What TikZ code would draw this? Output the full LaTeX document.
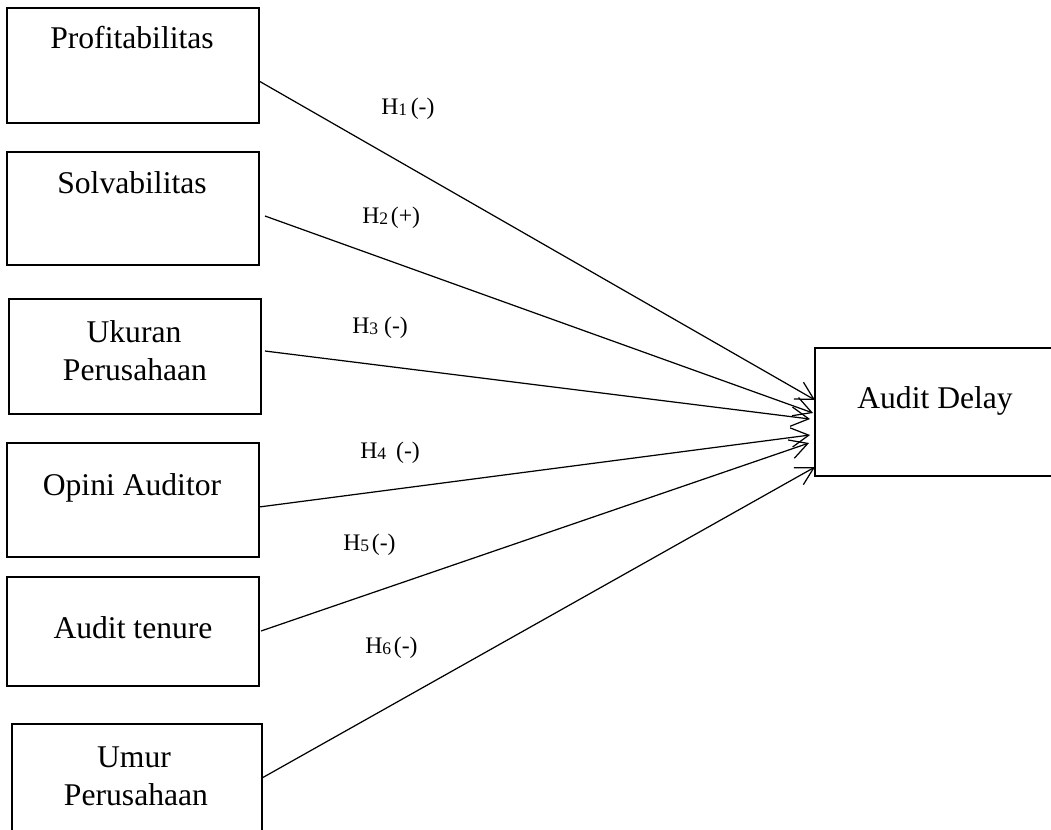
\documentclass[tikz,border=0pt]{standalone}
\usepackage{fontspec}
\setmainfont{Liberation Serif}
\usetikzlibrary{arrows.meta,calc}
% small index digit after H
\newcommand\hsub[1]{\raisebox{-1pt}{\fontsize{10}{12}\selectfont #1}}
\begin{document}
\begin{tikzpicture}[x=0.02cm,y=-0.02cm,
  box/.style={draw,line width=0.75pt,rectangle,inner sep=0pt,outer sep=0pt},
  boxtext/.style={anchor=base,inner sep=0pt,font=\fontsize{18}{21}\selectfont},
  hyp/.style={anchor=base west,inner sep=0pt,font=\fontsize{13.5}{16}\selectfont},
  arr/.style={line width=0.7pt,-{Straight Barb[length=10pt,width=11pt]}}]
\useasboundingbox (0,0) rectangle (1051,829);
\clip (0,0) rectangle (1051,829);

% independent variables
\node[box,minimum width=5.04cm,minimum height=2.30cm] (p1) at (133,65.5) {};
\node[box,minimum width=5.04cm,minimum height=2.26cm] (p2) at (133,208.5) {};
\node[box,minimum width=5.04cm,minimum height=2.30cm] (p3) at (135,356.5) {};
\node[box,minimum width=5.04cm,minimum height=2.28cm] (p4) at (133,500) {};
\node[box,minimum width=5.04cm,minimum height=2.18cm] (p5) at (133,631.5) {};
\node[box,minimum width=5.00cm,minimum height=2.28cm] (p6) at (137,781) {};
% dependent variable
\node[box,minimum width=4.90cm,minimum height=2.56cm] (ad) at (937.5,412) {};

\node[boxtext] (t1) at (132,48) {Profitabilitas};
\node[boxtext] (t2) at (132,193) {Solvabilitas};
\node[boxtext] (t3a) at (134,342) {Ukuran};
\node[boxtext] (t3b) at (135,380) {Perusahaan};
\node[boxtext] (t4) at (132,495) {Opini Auditor};
\node[boxtext] (t5) at (133,638) {Audit tenure};
\node[boxtext] (t6a) at (134,767) {Umur};
\node[boxtext] (t6b) at (136,805) {Perusahaan};
\path (ad.west) ++(120,-4) node[boxtext] (t7) {Audit Delay};

% start and end points of the paths
\coordinate (s1) at (p1.east |- 0,81);
\coordinate (s2) at ($(p2.east |- 0,216)+(6,0)$);
\coordinate (s3) at ($(p3.east |- 0,351)+(4,0)$);
\coordinate (s4) at (p4.east |- 0,507);
\coordinate (s5) at ($(p5.east |- 0,631)+(2,0)$);
\coordinate (s6) at (p6.east |- 0,778);

\draw[arr] (s1) -- ($(ad.west)+(0,-12)$);
\draw[arr] (s2) -- ($(ad.west)+(-2,1)$);
\draw[arr] (s3) -- ($(ad.west)+(-5,7)$);
\draw[arr] (s4) -- ($(ad.west)+(-5,23)$);
\draw[arr] (s5) -- ($(ad.west)+(-6,31)$);
\draw[arr] (s6) -- ($(ad.west)+(0,55)$);

% hypothesis labels
\node[hyp] (h1) at (381,114) {H\hsub{1}\kern2pt(-)};
\node[hyp] (h2) at (362,223) {H\hsub{2}\kern1.5pt(+)};
\node[hyp] (h3) at (352,333) {H\hsub{3} (-)};
\node[hyp] (h4) at (360,458) {H\hsub{4} \,(-)};
\node[hyp] (h5) at (343,550) {H\hsub{5}\kern1.5pt(-)};
\node[hyp] (h6) at (365,653) {H\hsub{6}\kern1.5pt(-)};
\end{tikzpicture}
\end{document}
